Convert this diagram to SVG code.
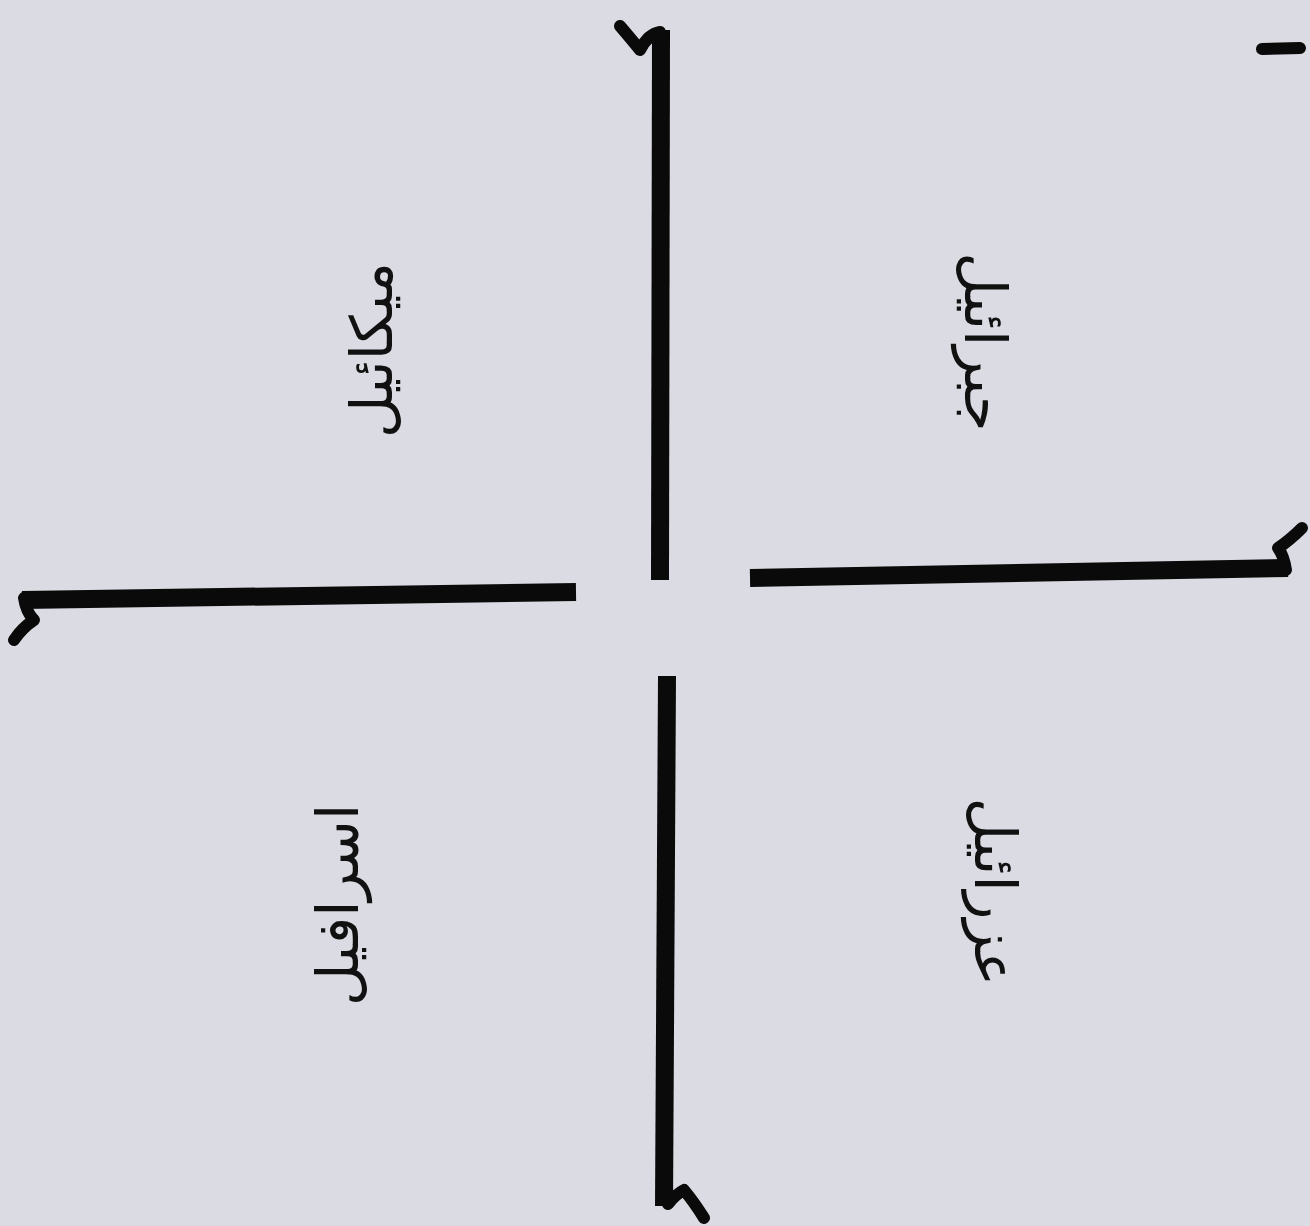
<svg xmlns="http://www.w3.org/2000/svg" width="1310" height="1226" viewBox="0 0 1310 1226">
<style>
.ln{fill:none;stroke:#0a0a0a;stroke-width:18;stroke-linecap:butt;stroke-linejoin:round}
.hk{fill:none;stroke:#0a0a0a;stroke-width:12;stroke-linecap:round;stroke-linejoin:round}
.lbl{font-family:"DejaVu Sans",sans-serif;font-size:58px;fill:#111;text-anchor:middle;dominant-baseline:central}
</style>
<rect width="1310" height="1226" fill="#dbdce3"/>
<g id="connectors">
<path class="ln" d="M661,30 L660,580"/>
<path class="hk" d="M660,32 Q648,34 640,50 Q632,40 620,26"/>
<path class="ln" d="M22,600 L576,592"/>
<path class="hk" d="M24,598 Q26,612 34,620 Q22,628 14,640"/>
<path class="ln" d="M750,578 L1288,568"/>
<path class="hk" d="M1286,570 Q1284,556 1278,548 Q1290,540 1302,528"/>
<path class="ln" d="M667,676 L664,1206"/>
<path class="hk" d="M668,1204 Q676,1194 684,1190 Q694,1202 704,1218"/>
<path class="hk" d="M1262,49 L1300,48"/>
</g>
<g id="node-mikail"><text class="lbl" transform="translate(372,350) rotate(-90)">میکائیل</text></g>
<g id="node-jibrail"><text class="lbl" transform="translate(985,342) rotate(90)">جبرائیل</text></g>
<g id="node-israfil"><text class="lbl" transform="translate(338,905) rotate(-90)">اسرافیل</text></g>
<g id="node-izrail"><text class="lbl" transform="translate(995,892) rotate(90)">عزرائیل</text></g>
</svg>
